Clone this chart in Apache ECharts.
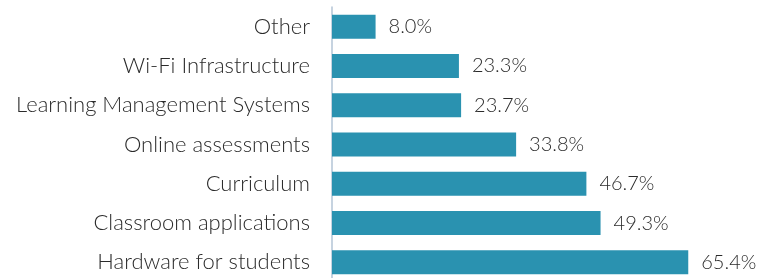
<!DOCTYPE html>
<html>
<head>
<meta charset="utf-8">
<script src="https://cdn.jsdelivr.net/npm/echarts@6/dist/echarts.min.js"></script>
<style>
html, body { margin: 0; padding: 0; background: #fff; }
#chart { width: 763px; height: 278px; }
</style>
</head>
<body>
<div id="chart"></div>
<script>
var categories = ['Other', 'Wi-Fi Infrastructure', 'Learning Management Systems', 'Online assessments', 'Curriculum', 'Classroom applications', 'Hardware for students'];
var shares = [8.0, 23.3, 23.7, 33.8, 46.7, 49.3, 65.4];

var myChart = echarts.init(document.getElementById('chart'));
var option = {
	animation: false,
	grid: {
		left: 332,
		top: 7,
		height: 275,
		right: 17,
		outerBoundsMode: 'none'
	},
	xAxis: {
		type: 'value',
		min: 0,
		max: 76,
		show: false
	},
	yAxis: {
		type: 'category',
		inverse: true,
		data: categories,
		axisLine: {
			show: true,
			lineStyle: { color: '#b3c5d6', width: 1.5 }
		},
		axisTick: { show: false },
		axisLabel: {
			margin: 22,
			fontFamily: 'Lato',
			fontWeight: 300,
			fontSize: 22,
			color: '#2b2b2b'
		}
	},
	series: [{
		type: 'bar',
		data: shares,
		barWidth: 24,
		itemStyle: { color: '#2a92b0' },
		label: {
			show: true,
			position: 'right',
			distance: 13,
			fontFamily: 'Lato',
			fontWeight: 300,
			fontSize: 20,
			color: '#2b2b2b',
			formatter: function (p) {
				return p.value.toFixed(1) + '%';
			}
		}
	}]
};
myChart.setOption(option);
</script>
</body>
</html>
